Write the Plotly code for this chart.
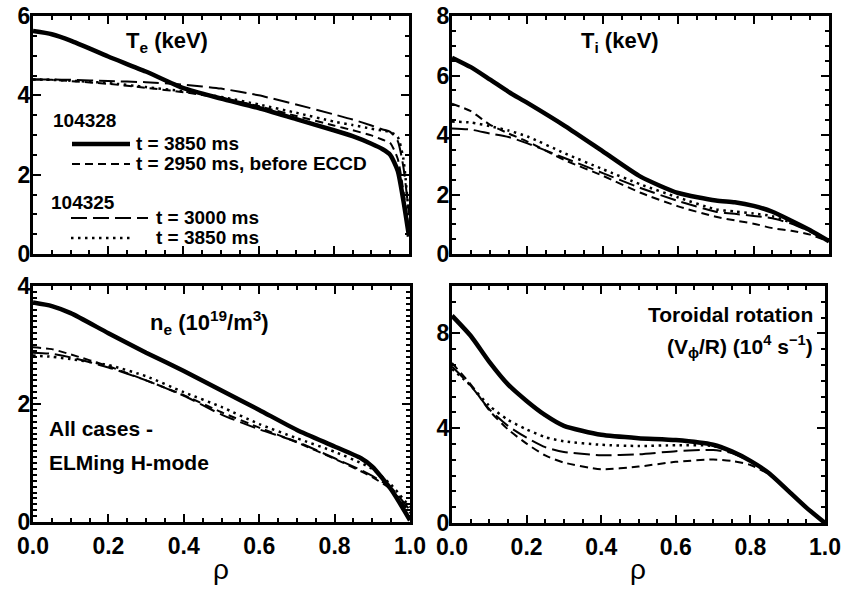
import plotly.graph_objects as go

# ---------------- data ----------------
rho_te = [0, 0.05, 0.1, 0.2, 0.3, 0.4, 0.5, 0.6, 0.7, 0.8, 0.85, 0.9, 0.93, 0.95, 0.97, 0.985, 1.0]
te_104328_3850 = [5.62, 5.54, 5.38, 4.98, 4.6, 4.18, 3.92, 3.68, 3.4, 3.12, 2.97, 2.78, 2.64, 2.5, 2.1, 1.35, 0.44]
te_104328_2950 = [4.4, 4.39, 4.36, 4.29, 4.19, 4.08, 3.93, 3.73, 3.48, 3.24, 3.12, 2.99, 2.88, 2.8, 2.4, 1.6, 0.6]
te_104325_3000 = [4.4, 4.4, 4.39, 4.36, 4.33, 4.27, 4.17, 4.0, 3.77, 3.52, 3.39, 3.24, 3.14, 3.08, 2.85, 2.2, 1.0]
te_104325_3850 = [4.4, 4.39, 4.37, 4.31, 4.21, 4.1, 3.96, 3.77, 3.56, 3.34, 3.25, 3.16, 3.11, 3.08, 2.95, 2.4, 0.9]

rho_ti = [0, 0.05, 0.1, 0.15, 0.2, 0.3, 0.4, 0.5, 0.6, 0.7, 0.75, 0.8, 0.85, 0.9, 0.95, 1.0]
ti_104328_3850 = [6.6, 6.28, 5.87, 5.45, 5.08, 4.3, 3.45, 2.6, 2.05, 1.8, 1.74, 1.62, 1.42, 1.12, 0.8, 0.43]
ti_104328_2950 = [5.05, 4.8, 4.35, 4.05, 3.78, 3.15, 2.63, 2.06, 1.6, 1.25, 1.13, 1.02, 0.87, 0.78, 0.65, 0.42]
ti_104325_3000 = [4.22, 4.18, 4.05, 3.93, 3.72, 3.22, 2.72, 2.22, 1.78, 1.42, 1.35, 1.28, 1.2, 1.02, 0.75, 0.43]
ti_104325_3850 = [4.45, 4.42, 4.3, 4.15, 3.95, 3.38, 2.85, 2.34, 1.9, 1.5, 1.43, 1.36, 1.27, 1.05, 0.77, 0.43]

rho_ne = [0, 0.05, 0.1, 0.2, 0.3, 0.4, 0.5, 0.6, 0.7, 0.8, 0.87, 0.9, 0.95, 1.0]
ne_104328_3850 = [3.72, 3.66, 3.54, 3.2, 2.87, 2.56, 2.23, 1.9, 1.56, 1.28, 1.08, 0.94, 0.55, 0.03]
ne_104328_2950 = [2.96, 2.93, 2.84, 2.64, 2.4, 2.15, 1.86, 1.6, 1.35, 1.07, 0.86, 0.76, 0.55, 0.15]
ne_104325_3000 = [2.87, 2.85, 2.79, 2.62, 2.4, 2.14, 1.82, 1.57, 1.36, 1.08, 0.88, 0.78, 0.58, 0.2]
ne_104325_3850 = [2.82, 2.8, 2.76, 2.66, 2.47, 2.2, 1.95, 1.66, 1.42, 1.19, 1.0, 0.9, 0.63, 0.25]

rho_rot = [0, 0.05, 0.1, 0.15, 0.2, 0.25, 0.3, 0.4, 0.5, 0.6, 0.7, 0.75, 0.8, 0.85, 0.9, 0.95, 1.0]
rot_104328_3850 = [8.75, 7.9, 6.8, 5.85, 5.15, 4.55, 4.1, 3.72, 3.58, 3.5, 3.3, 3.02, 2.62, 2.1, 1.38, 0.65, 0.0]
rot_104328_2950 = [6.75, 5.85, 4.75, 3.95, 3.35, 2.85, 2.55, 2.27, 2.38, 2.58, 2.68, 2.62, 2.45, 2.05, 1.38, 0.65, 0.0]
rot_104325_3000 = [6.6, 5.8, 4.8, 4.1, 3.6, 3.2, 3.0, 2.86, 2.9, 3.03, 3.08, 2.95, 2.6, 2.1, 1.38, 0.65, 0.0]
rot_104325_3850 = [6.5, 5.8, 4.95, 4.35, 3.95, 3.62, 3.45, 3.3, 3.25, 3.28, 3.25, 3.0, 2.62, 2.1, 1.38, 0.65, 0.0]

x_ticks = [0, 0.2, 0.4, 0.6, 0.8, 1.0]
x_ticktext = ["0.0", "0.2", "0.4", "0.6", "0.8", "1.0"]

# ---------------- layout helpers ----------------
W, H = 842, 592
FONT = "Liberation Sans, Arial, Helvetica, sans-serif"


def fx(x):
    return x / W


def fy(y):
    return 1 - y / H


STY = {
    "solid": dict(color="black", width=4.5, dash="solid"),
    "dash": dict(color="black", width=2, dash="8px,5px"),
    "longdash": dict(color="black", width=2, dash="16px,6px"),
    "dot": dict(color="black", width=2.5, dash="2.5px,4.5px"),
}

panels = [
    # xaxis, yaxis, pixel box (x0,x1,ytop,ybottom), yrange, ytickvals, yminor, rho, series, show x labels
    ("x", "y", (33, 409, 16, 254), [0, 6], [0, 2, 4, 6], 0.5,
     rho_te, [te_104328_2950, te_104325_3000, te_104325_3850, te_104328_3850], False),
    ("x2", "y2", (452, 829, 16, 254), [0, 8], [0, 2, 4, 6, 8], 0.5,
     rho_ti, [ti_104328_2950, ti_104325_3000, ti_104325_3850, ti_104328_3850], False),
    ("x3", "y3", (33, 410, 286, 522), [0, 4], [0, 2, 4], 0.1,
     rho_ne, [ne_104328_2950, ne_104325_3000, ne_104325_3850, ne_104328_3850], True),
    ("x4", "y4", (452, 825, 286, 523), [0, 10], [0, 4, 8], 2 / 3,
     rho_rot, [rot_104328_2950, rot_104325_3000, rot_104325_3850, rot_104328_3850], True),
]
styles = ["dash", "longdash", "dot", "solid"]

fig = go.Figure()
layout = {}
for xa, ya, box, yr, ytv, ymin, rho, series, showx in panels:
    x0, x1, yt, yb = box
    for s, st in zip(series, styles):
        fig.add_trace(go.Scatter(x=rho, y=s, mode="lines", xaxis=xa, yaxis=ya,
                                 line=dict(shape="spline", smoothing=0.6, **STY[st]),
                                 showlegend=False, hoverinfo="skip"))
    xk = "xaxis" + xa[1:]
    yk = "yaxis" + ya[1:]
    common = dict(showline=True, linecolor="black", linewidth=3, mirror="ticks",
                  ticks="inside", ticklen=8, tickwidth=2, tickcolor="black",
                  showgrid=False, zeroline=False, fixedrange=True, automargin=False,
                  tickfont=dict(family=FONT, size=23, color="black", weight="bold"))
    layout[xk] = dict(common, domain=[fx(x0), fx(x1)], range=[0, 1], anchor=ya,
                      tickvals=x_ticks, ticktext=x_ticktext, showticklabels=showx,
                      ticklabelstandoff=1,
                      minor=dict(dtick=0.05, tick0=0, ticks="inside", ticklen=4, tickwidth=1.5,
                                 tickcolor="black"))
    layout[yk] = dict(common, domain=[fy(yb), fy(yt)], range=yr, anchor=xa,
                      tickvals=ytv, ticktext=[str(v) for v in ytv],
                      ticklabelstandoff=-5,
                      minor=dict(dtick=ymin, tick0=0, ticks="inside", ticklen=4, tickwidth=1.5,
                                 tickcolor="black"))

fig.update_layout(**layout)

# ---------------- annotations ----------------
ann = []


def text(x, y, t, size=22, xanchor="left", bold=True):
    ann.append(dict(x=fx(x), y=fy(y), xref="paper", yref="paper", text=t, showarrow=False,
                    xanchor=xanchor, yanchor="middle",
                    font=dict(family=FONT, size=size, color="black",
                              weight="bold" if bold else "normal")))


text(167, 42, "T<sub>e</sub> (keV)", xanchor="center")
text(620, 42, "T<sub>i</sub> (keV)", xanchor="center")
text(209, 322, "n<sub>e</sub> (10<sup>19</sup>/m<sup>3</sup>)", xanchor="center")
text(815, 314, "Toroidal rotation", size=21, xanchor="right")
text(815, 346, "(V<sub>ϕ</sub>/R) (10<sup>4</sup> s<sup>−1</sup>)", size=21, xanchor="right")
text(47, 428, "All cases -", size=21)
text(47, 462, "ELMing H-mode", size=21)

# legend block
text(51, 120, "104328", size=19)
text(134, 144, "t = 3850 ms", size=19)
text(134, 164, "t = 2950 ms, before ECCD", size=19)
text(49, 202, "104325", size=19)
text(154, 218, "t = 3000 ms", size=19)
text(154, 238, "t = 3850 ms", size=19)

# rho labels
text(221, 569, "ρ", size=28, xanchor="center", bold=False)
text(638, 569, "ρ", size=28, xanchor="center", bold=False)

shapes = []


def sample(xa, xb, y, st):
    s = STY[st]
    shapes.append(dict(type="line", xref="paper", yref="paper", x0=fx(xa), x1=fx(xb),
                       y0=fy(y), y1=fy(y),
                       line=dict(color=s["color"], width=s["width"], dash=s["dash"])))


sample(72, 130, 144, "solid")
sample(72, 130, 164, "dash")
sample(71, 148, 218, "longdash")
sample(71, 130, 238, "dot")

fig.update_layout(annotations=ann, shapes=shapes, width=W, height=H,
                  margin=dict(l=0, r=0, t=0, b=0), paper_bgcolor="white",
                  plot_bgcolor="white", showlegend=False)

fig.write_html("out.html", config={"displayModeBar": False},
               post_script="document.body.style.margin='0';document.body.style.overflow='hidden';")
